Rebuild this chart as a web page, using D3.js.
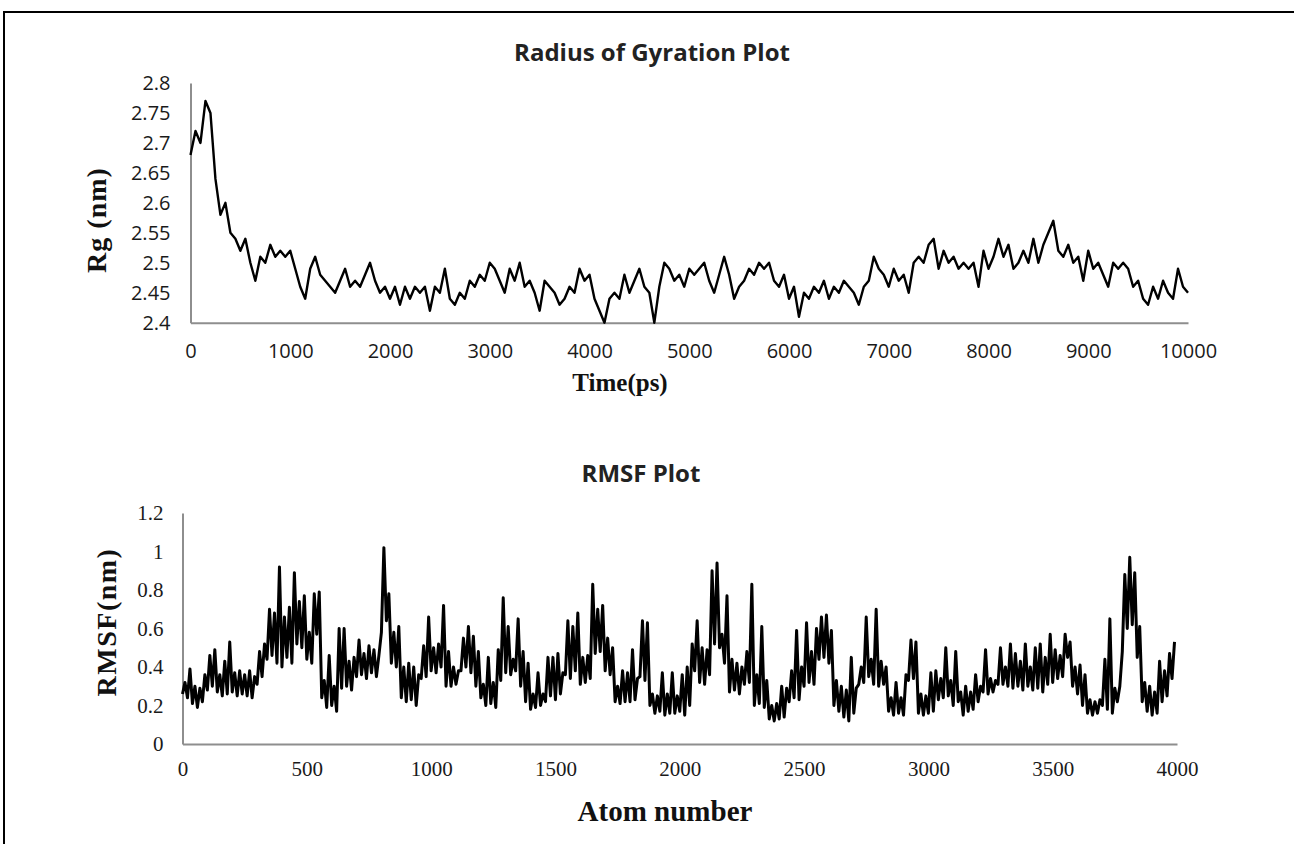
<!DOCTYPE html>
<html>
<head>
<meta charset="utf-8">
<script src="https://cdn.jsdelivr.net/npm/d3@7"></script>
<style>
  body { margin: 0; background: #fff; }
</style>
</head>
<body>
<script>
// Radius of gyration, one reading every 50 ps
const rgTime = d3.range(0, 10001, 50);
const rgValues = [
  2.68, 2.72, 2.70, 2.77, 2.75, 2.64, 2.58, 2.60, 2.55, 2.54,
  2.52, 2.54, 2.50, 2.47, 2.51, 2.50, 2.53, 2.51, 2.52, 2.51,
  2.52, 2.49, 2.46, 2.44, 2.49, 2.51, 2.48, 2.47, 2.46, 2.45,
  2.47, 2.49, 2.46, 2.47, 2.46, 2.48, 2.50, 2.47, 2.45, 2.46,
  2.44, 2.46, 2.43, 2.46, 2.44, 2.46, 2.45, 2.46, 2.42, 2.46,
  2.45, 2.49, 2.44, 2.43, 2.45, 2.44, 2.47, 2.46, 2.48, 2.47,
  2.50, 2.49, 2.47, 2.45, 2.49, 2.47, 2.50, 2.46, 2.47, 2.45,
  2.42, 2.47, 2.46, 2.45, 2.43, 2.44, 2.46, 2.45, 2.49, 2.47,
  2.48, 2.44, 2.42, 2.40, 2.44, 2.45, 2.44, 2.48, 2.45, 2.47,
  2.49, 2.46, 2.45, 2.40, 2.46, 2.50, 2.49, 2.47, 2.48, 2.46,
  2.49, 2.48, 2.49, 2.50, 2.47, 2.45, 2.48, 2.51, 2.48, 2.44,
  2.46, 2.47, 2.49, 2.48, 2.50, 2.49, 2.50, 2.47, 2.46, 2.48,
  2.44, 2.46, 2.41, 2.45, 2.44, 2.46, 2.45, 2.47, 2.44, 2.46,
  2.45, 2.47, 2.46, 2.45, 2.43, 2.46, 2.47, 2.51, 2.49, 2.48,
  2.46, 2.49, 2.47, 2.48, 2.45, 2.50, 2.51, 2.50, 2.53, 2.54,
  2.49, 2.52, 2.50, 2.51, 2.49, 2.50, 2.49, 2.50, 2.46, 2.52,
  2.49, 2.51, 2.54, 2.51, 2.53, 2.49, 2.50, 2.52, 2.50, 2.54,
  2.50, 2.53, 2.55, 2.57, 2.52, 2.51, 2.53, 2.50, 2.51, 2.47,
  2.52, 2.49, 2.50, 2.48, 2.46, 2.50, 2.49, 2.50, 2.49, 2.46,
  2.47, 2.44, 2.43, 2.46, 2.44, 2.47, 2.45, 2.44, 2.49, 2.46,
  2.45
];
const rgXTicks = [0, 1000, 2000, 3000, 4000, 5000, 6000, 7000, 8000, 9000, 10000];
const rgYTicks = [2.4, 2.45, 2.5, 2.55, 2.6, 2.65, 2.7, 2.75, 2.8];

// RMSF, one reading every 10 atoms (the trace swings low/high between neighbours)
const atomNumbers = d3.range(0, 4000, 10);
const rmsfValues = [
  0.26, 0.32, 0.24, 0.39, 0.21, 0.30, 0.19, 0.29, 0.22, 0.36,
  0.28, 0.46, 0.30, 0.49, 0.27, 0.36, 0.25, 0.43, 0.26, 0.53,
  0.27, 0.37, 0.25, 0.38, 0.26, 0.36, 0.25, 0.38, 0.24, 0.35,
  0.31, 0.48, 0.35, 0.52, 0.44, 0.70, 0.46, 0.68, 0.42, 0.92,
  0.40, 0.66, 0.45, 0.71, 0.42, 0.89, 0.52, 0.74, 0.50, 0.77,
  0.44, 0.58, 0.42, 0.78, 0.57, 0.79, 0.24, 0.33, 0.19, 0.46,
  0.20, 0.30, 0.17, 0.60, 0.29, 0.60, 0.30, 0.43, 0.28, 0.45,
  0.35, 0.54, 0.36, 0.47, 0.34, 0.51, 0.37, 0.49, 0.35, 0.46,
  0.58, 1.02, 0.64, 0.78, 0.42, 0.58, 0.40, 0.61, 0.24, 0.40,
  0.22, 0.42, 0.23, 0.40, 0.20, 0.36, 0.34, 0.51, 0.35, 0.66,
  0.38, 0.50, 0.37, 0.52, 0.40, 0.72, 0.30, 0.48, 0.30, 0.40,
  0.31, 0.38, 0.38, 0.55, 0.40, 0.61, 0.37, 0.56, 0.30, 0.48,
  0.24, 0.31, 0.20, 0.45, 0.21, 0.32, 0.19, 0.49, 0.33, 0.76,
  0.37, 0.61, 0.36, 0.44, 0.38, 0.65, 0.30, 0.48, 0.22, 0.42,
  0.18, 0.26, 0.19, 0.37, 0.20, 0.26, 0.22, 0.45, 0.25, 0.45,
  0.23, 0.47, 0.26, 0.37, 0.36, 0.64, 0.34, 0.61, 0.38, 0.68,
  0.31, 0.45, 0.32, 0.46, 0.34, 0.83, 0.47, 0.70, 0.48, 0.72,
  0.38, 0.55, 0.36, 0.50, 0.22, 0.30, 0.21, 0.38, 0.22, 0.37,
  0.22, 0.49, 0.23, 0.34, 0.35, 0.64, 0.33, 0.63, 0.20, 0.26,
  0.16, 0.25, 0.17, 0.37, 0.15, 0.26, 0.16, 0.37, 0.16, 0.25,
  0.17, 0.36, 0.15, 0.40, 0.20, 0.52, 0.38, 0.64, 0.32, 0.50,
  0.31, 0.49, 0.36, 0.90, 0.52, 0.94, 0.50, 0.57, 0.42, 0.77,
  0.27, 0.44, 0.28, 0.42, 0.26, 0.40, 0.31, 0.48, 0.32, 0.83,
  0.20, 0.36, 0.21, 0.61, 0.19, 0.33, 0.13, 0.20, 0.12, 0.21,
  0.13, 0.30, 0.14, 0.29, 0.22, 0.38, 0.24, 0.59, 0.23, 0.40,
  0.30, 0.63, 0.32, 0.48, 0.31, 0.60, 0.44, 0.66, 0.45, 0.67,
  0.42, 0.59, 0.20, 0.33, 0.17, 0.30, 0.14, 0.28, 0.12, 0.45,
  0.16, 0.29, 0.31, 0.40, 0.32, 0.66, 0.35, 0.44, 0.31, 0.70,
  0.30, 0.43, 0.31, 0.40, 0.17, 0.24, 0.15, 0.32, 0.16, 0.24,
  0.15, 0.36, 0.33, 0.54, 0.34, 0.53, 0.16, 0.26, 0.15, 0.25,
  0.16, 0.37, 0.17, 0.38, 0.23, 0.34, 0.24, 0.50, 0.25, 0.33,
  0.20, 0.48, 0.22, 0.27, 0.15, 0.30, 0.17, 0.27, 0.18, 0.36,
  0.22, 0.30, 0.27, 0.49, 0.26, 0.34, 0.27, 0.33, 0.31, 0.50,
  0.31, 0.40, 0.30, 0.52, 0.29, 0.47, 0.30, 0.43, 0.28, 0.52,
  0.30, 0.40, 0.28, 0.50, 0.29, 0.52, 0.27, 0.45, 0.31, 0.57,
  0.32, 0.49, 0.34, 0.46, 0.35, 0.57, 0.45, 0.53, 0.30, 0.40,
  0.26, 0.41, 0.20, 0.36, 0.16, 0.23, 0.15, 0.22, 0.16, 0.23,
  0.20, 0.44, 0.18, 0.65, 0.16, 0.29, 0.22, 0.30, 0.48, 0.88,
  0.60, 0.97, 0.62, 0.89, 0.45, 0.61, 0.22, 0.32, 0.17, 0.30,
  0.15, 0.27, 0.16, 0.43, 0.22, 0.38, 0.25, 0.47, 0.34, 0.53
];
const rmsfXTicks = [0, 500, 1000, 1500, 2000, 2500, 3000, 3500, 4000];
const rmsfYTicks = [0, 0.2, 0.4, 0.6, 0.8, 1, 1.2];

const width = 1294, height = 844;
const sansFont = "'Open Sans', 'Liberation Sans', sans-serif";
const serifFont = "'Liberation Serif', 'DejaVu Serif', serif";
const axisGrey = "#8e8e8e";

const svg = d3.select("body")
  .append("svg")
    .attr("width", width)
    .attr("height", height);

svg.append("rect")
  .attr("width", width)
  .attr("height", height)
  .attr("fill", "#fff");

// outer frame (top and left edges only)
svg.append("path")
  .attr("d", `M4,${height} V12 H${width}`)
  .attr("fill", "none")
  .attr("stroke", "#000")
  .attr("stroke-width", 2);

function fmt(d) { return String(+d.toFixed(2)); }

function drawPanel(p) {
  const x = d3.scaleLinear().domain(p.xDomain).range(p.xRange);
  const y = d3.scaleLinear().domain(p.yDomain).range(p.yRange);

  const gx = svg.append("g")
    .attr("transform", `translate(0,${p.yRange[0]})`)
    .call(d3.axisBottom(x).tickValues(p.xTicks).tickFormat(fmt)
      .tickSize(0).tickPadding(p.xPad));
  const gy = svg.append("g")
    .attr("transform", `translate(${p.xRange[0]},0)`)
    .call(d3.axisLeft(y).tickValues(p.yTicks).tickFormat(fmt)
      .tickSize(0).tickPadding(p.yPad));

  [gx, gy].forEach(g => {
    g.attr("font-family", p.tickFont)
      .attr("font-size", p.tickSize)
      .attr("color", "#1a1a1a");
    g.select(".domain")
      .attr("stroke", axisGrey)
      .attr("stroke-width", 2);
  });

  const line = d3.line()
    .x((d, i) => x(p.xs[i]))
    .y(d => y(d));

  svg.append("path")
    .datum(p.ys)
    .attr("fill", "none")
    .attr("stroke", "#000")
    .attr("stroke-width", p.lineWidth)
    .attr("stroke-linejoin", "round")
    .attr("d", line);

  svg.append("text")
    .attr("x", p.title.x)
    .attr("y", p.title.y)
    .attr("text-anchor", "middle")
    .style("font-family", sansFont)
    .style("font-weight", "bold")
    .style("font-size", "24px")
    .style("fill", "#222")
    .text(p.title.text);

  svg.append("text")
    .attr("x", p.xLabel.x)
    .attr("y", p.xLabel.y)
    .attr("text-anchor", "middle")
    .style("font-family", serifFont)
    .style("font-weight", "bold")
    .style("font-size", p.xLabel.size + "px")
    .style("fill", "#111")
    .text(p.xLabel.text);

  svg.append("text")
    .attr("transform", `translate(${p.yLabel.x},${p.yLabel.y}) rotate(-90)`)
    .attr("text-anchor", "middle")
    .style("font-family", serifFont)
    .style("font-weight", "bold")
    .style("font-size", "28px")
    .style("letter-spacing", p.yLabel.spacing + "px")
    .style("fill", "#111")
    .text(p.yLabel.text);
}

drawPanel({
  xs: rgTime, ys: rgValues,
  xDomain: [0, 10000], xRange: [190.5, 1188],
  yDomain: [2.4, 2.8], yRange: [322.7, 83],
  xTicks: rgXTicks, yTicks: rgYTicks,
  tickFont: sansFont, tickSize: 20, xPad: 21, yPad: 20,
  lineWidth: 2.4,
  title: {text: "Radius of Gyration Plot", x: 652, y: 61},
  xLabel: {text: "Time(ps)", x: 620, y: 391, size: 25},
  yLabel: {text: "Rg (nm)", x: 106, y: 220, spacing: 1}
});

drawPanel({
  xs: atomNumbers, ys: rmsfValues,
  xDomain: [0, 4000], xRange: [182.5, 1177],
  yDomain: [0, 1.2], yRange: [744, 513],
  xTicks: rmsfXTicks, yTicks: rmsfYTicks,
  tickFont: serifFont, tickSize: 21, xPad: 17, yPad: 19,
  lineWidth: 3,
  title: {text: "RMSF Plot", x: 641, y: 482},
  xLabel: {text: "Atom number", x: 665, y: 821, size: 29},
  yLabel: {text: "RMSF(nm)", x: 116, y: 622, spacing: 1.5}
});
</script>
</body>
</html>
